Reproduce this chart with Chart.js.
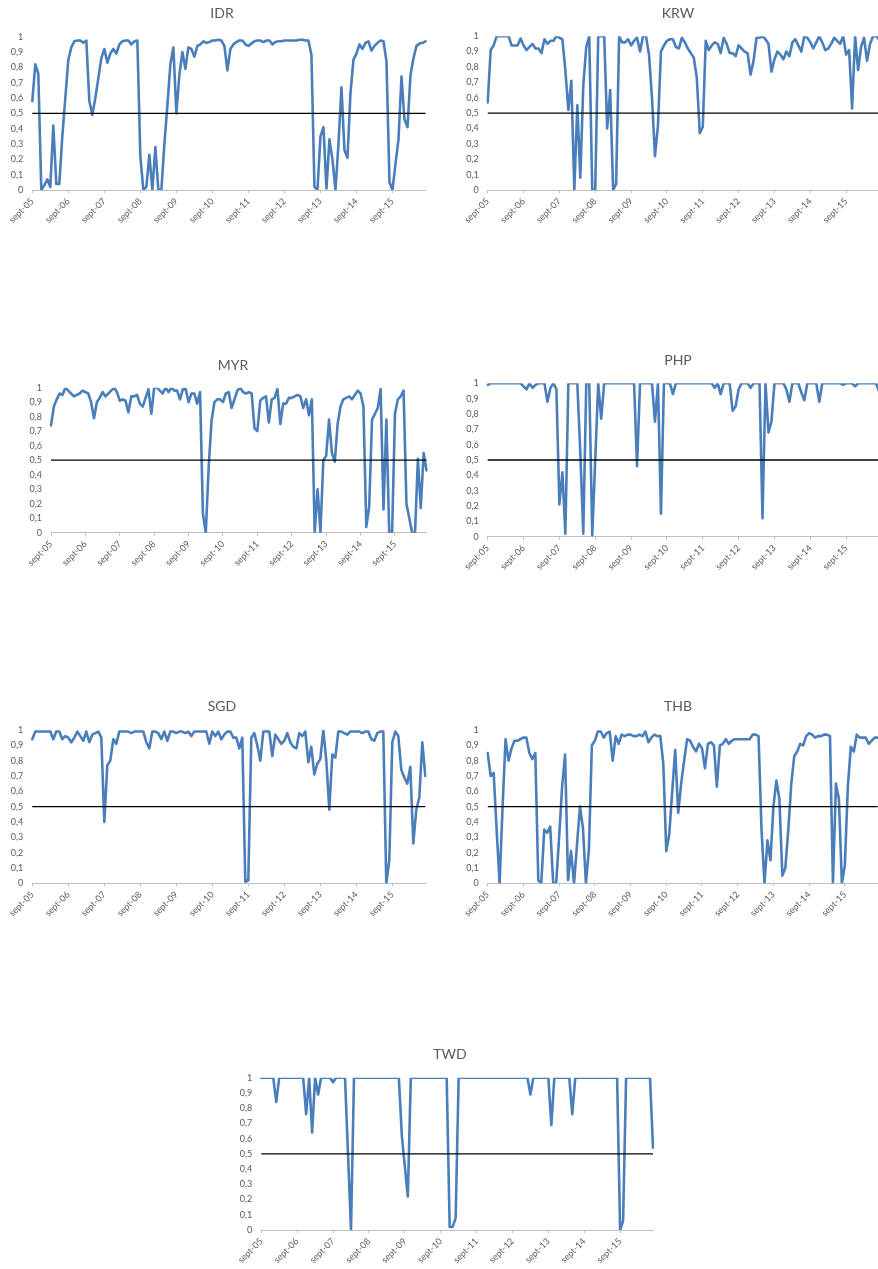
<!DOCTYPE html>
<html><head><meta charset="utf-8">
<script src="https://cdn.jsdelivr.net/npm/chart.js@4.4.1/dist/chart.umd.min.js"></script>
<style>
html,body{margin:0;padding:0;width:878px;height:1269px;overflow:hidden;background:#fff;}
canvas{position:absolute;}
</style></head><body>
<script>
// ---- data ----
const monthNames = ['sept','oct','nov','déc','janv','févr','mars','avr','mai','juin','juil','août'];
const tickLabels = ['sept-05','sept-06','sept-07','sept-08','sept-09','sept-10','sept-11','sept-12','sept-13','sept-14','sept-15'];
const threshold = 0.5;

const IDR = [0.58,0.82,0.76,0.0,0.03,0.07,0.02,0.42,0.04,0.04,0.35,0.6,0.85,0.93,0.97,0.975,0.975,0.96,0.975,0.58,
0.49,0.6,0.73,0.86,0.92,0.83,0.89,0.92,0.89,0.95,0.97,0.975,0.975,0.95,0.97,0.975,0.22,0.0,0.02,0.23,
0.0,0.28,0.0,0.0,0.3,0.55,0.82,0.93,0.5,0.75,0.9,0.79,0.93,0.92,0.87,0.94,0.95,0.97,0.96,0.965,
0.975,0.975,0.98,0.975,0.94,0.78,0.92,0.95,0.965,0.975,0.975,0.95,0.94,0.955,0.97,0.975,0.975,0.965,0.975,0.975,
0.95,0.965,0.97,0.97,0.975,0.975,0.975,0.975,0.975,0.98,0.98,0.975,0.975,0.88,0.02,0.0,0.35,0.41,0.01,0.33,
0.2,0.0,0.3,0.67,0.26,0.21,0.63,0.85,0.89,0.95,0.92,0.96,0.97,0.91,0.94,0.96,0.975,0.97,0.84,0.05,
0.0,0.17,0.33,0.74,0.46,0.41,0.75,0.86,0.94,0.955,0.96,0.97];

const KRW = [0.57,0.91,0.94,1,1,1,1,1,0.94,0.94,0.94,0.985,0.94,0.91,0.93,0.95,0.92,0.92,0.89,0.98,
0.95,0.97,0.97,1,0.99,0.98,0.78,0.52,0.71,0.0,0.55,0.08,0.68,0.93,1,0.0,0.0,1,1,1,
0.4,0.65,0.0,0.04,1,0.96,0.96,0.98,0.94,0.97,0.99,0.9,1,1,0.88,0.6,0.22,0.42,0.9,0.94,
0.97,0.98,0.98,0.93,0.92,0.99,0.96,0.92,0.89,0.86,0.73,0.37,0.41,0.97,0.91,0.94,0.96,0.95,0.89,0.99,
0.95,0.89,0.89,0.87,0.94,0.92,0.9,0.89,0.75,0.84,0.99,0.99,1,0.98,0.95,0.77,0.85,0.9,0.88,0.85,
0.9,0.87,0.96,0.98,0.94,0.9,1,0.99,0.96,0.92,0.96,1,0.96,0.91,0.92,0.95,0.99,0.97,0.95,1,
0.88,0.91,0.53,1,0.78,0.93,0.99,0.84,0.95,1,1,0.98];

const MYR = [0.74,0.87,0.92,0.96,0.95,1.0,0.98,0.96,0.94,0.95,0.96,0.98,0.97,0.96,0.9,0.79,0.9,0.93,0.97,0.94,
0.96,0.98,1.0,0.97,0.91,0.92,0.91,0.83,0.94,0.94,0.95,0.89,0.87,0.93,0.99,0.82,1.0,1.0,0.98,0.96,
1.0,0.97,1.0,0.98,0.98,0.92,0.99,0.99,0.9,0.96,0.96,0.89,0.97,0.13,0.0,0.45,0.77,0.9,0.92,0.92,
0.9,0.96,0.97,0.86,0.92,0.98,1.0,0.97,0.96,0.97,0.96,0.72,0.7,0.91,0.93,0.94,0.76,0.92,0.93,0.99,
0.75,0.89,0.89,0.93,0.93,0.94,0.95,0.94,0.86,0.92,0.81,0.92,0.0,0.3,0.0,0.5,0.53,0.78,0.55,0.49,
0.75,0.87,0.92,0.93,0.94,0.92,0.95,0.98,0.96,0.87,0.04,0.18,0.78,0.82,0.86,0.99,0.16,0.78,0.0,0.0,
0.82,0.92,0.94,0.98,0.2,0.1,0.0,0.0,0.51,0.17,0.55,0.43];

const PHP = [0.99,1,1,1,1,1,1,1,1,1,1,1,0.98,0.96,1,0.97,0.99,1,1,1,
0.88,0.97,1,0.96,0.21,0.42,0.02,1,1,1,1,0.55,0.02,1,1,0.01,0.5,1,0.77,1,
1,1,1,1,1,1,1,1,1,1,0.46,1,1,1,1,1,0.75,1,0.15,1,
1,1,0.93,1,1,1,1,1,1,1,1,1,1,1,1,1,0.97,1,0.93,1,
1,1,0.82,0.85,0.96,1,1,1,0.97,1,1,1,0.12,1,0.68,0.75,1,1,1,1,
0.96,0.88,1,1,1,0.94,0.89,1,1,1,1,0.88,1,1,1,1,1,1,1,0.99,
1,1,1,0.98,1,1,1,1,1,1,1,0.95];

const SGD = [0.94,0.99,0.99,0.99,0.99,0.99,0.99,0.94,0.99,0.99,0.94,0.96,0.95,0.92,0.95,0.99,0.96,0.93,0.99,0.92,
0.97,0.98,0.99,0.95,0.4,0.77,0.8,0.94,0.91,0.99,0.99,0.99,0.99,0.98,0.99,0.99,0.99,0.99,0.92,0.88,
0.99,0.99,0.98,0.94,0.99,0.93,0.99,0.99,0.98,0.99,0.99,0.98,0.99,0.96,0.99,0.99,0.99,0.99,0.99,0.91,
0.99,0.96,0.99,0.94,0.97,0.99,0.99,0.95,0.95,0.88,0.95,0.01,0.02,0.95,0.98,0.9,0.8,0.99,0.99,0.99,
0.83,0.97,0.94,0.91,0.93,0.98,0.92,0.89,0.88,0.98,0.96,0.99,0.79,0.89,0.71,0.78,0.81,1.0,0.8,0.48,
0.84,0.82,0.99,0.99,0.98,0.97,0.99,0.99,0.99,0.99,0.98,0.99,0.99,0.94,0.93,0.98,0.99,0.99,0.0,0.15,
0.92,0.99,0.96,0.74,0.69,0.65,0.76,0.26,0.48,0.56,0.92,0.7];

const THB = [0.85,0.7,0.72,0.35,0.0,0.5,0.94,0.8,0.88,0.93,0.93,0.94,0.95,0.95,0.85,0.81,0.85,0.02,0.0,0.35,
0.33,0.37,0.0,0.0,0.3,0.63,0.84,0.02,0.21,0.0,0.25,0.5,0.36,0.0,0.22,0.9,0.93,0.99,0.99,0.95,
0.98,0.99,0.8,0.96,0.91,0.97,0.96,0.97,0.97,0.96,0.96,0.97,0.96,0.99,0.92,0.95,0.97,0.96,0.96,0.78,
0.21,0.32,0.6,0.87,0.46,0.65,0.8,0.94,0.93,0.89,0.86,0.91,0.88,0.75,0.91,0.92,0.9,0.63,0.9,0.91,
0.94,0.91,0.93,0.94,0.94,0.94,0.94,0.94,0.94,0.97,0.97,0.96,0.35,0.0,0.28,0.15,0.5,0.67,0.55,0.05,
0.1,0.35,0.65,0.83,0.86,0.91,0.9,0.96,0.98,0.97,0.95,0.96,0.96,0.97,0.97,0.96,0.0,0.65,0.55,0.0,
0.12,0.63,0.89,0.86,0.97,0.95,0.95,0.95,0.91,0.93,0.95,0.95];

const TWD = [1,1,1,1,1,0.84,1,1,1,1,1,1,1,1,1,0.76,1,0.64,1,0.89,
1,1,1,1,0.97,1,1,1,1,0.5,0.0,1,1,1,1,1,1,1,1,1,
1,1,1,1,1,1,1,0.62,0.42,0.22,1,1,1,1,1,1,1,1,1,1,
1,1,1,0.02,0.02,0.08,1,1,1,1,1,1,1,1,1,1,1,1,1,1,
1,1,1,1,1,1,1,1,1,1,0.89,1,1,1,1,1,1,0.69,1,1,
1,1,1,1,0.76,1,1,1,1,1,1,1,1,1,1,1,1,1,1,1,
0.0,0.06,1,1,1,1,1,1,1,1,1,0.54];

// categories (monthly, starting sept-05)
const categories = IDR.map((_, i) => monthNames[i % 12] + '-' + String(5 + Math.floor((i + 8) / 12)).padStart(2, '0'));

// ---- layout (page pixel positions of each plot area) ----
const layout = [
  {name:'IDR', values:IDR, L:32.3, R:425.5, T:36.7, B:190,   tx:222, ty:13.5},
  {name:'KRW', values:KRW, L:487.7, R:879.0, T:36.2, B:190,  tx:678, ty:13.5},
  {name:'MYR', values:MYR, L:51,   R:426.5, T:387.7, B:532.7, tx:233, ty:365},
  {name:'PHP', values:PHP, L:487.7, R:879.0, T:383.3, B:536.7, tx:678, ty:360},
  {name:'SGD', values:SGD, L:32.3, R:425.3, T:730,  B:883.3, tx:222, ty:706.5},
  {name:'THB', values:THB, L:487.7, R:877.6, T:730,  B:883.3, tx:678, ty:706},
  {name:'TWD', values:TWD, L:261.3, R:653,   T:1077.7, B:1230, tx:450, ty:1054.5}
];

Chart.defaults.font.family = 'Lato, "Open Sans", sans-serif';
Chart.defaults.color = '#595959';

function makeChart(spec) {
  const canvas = document.createElement('canvas');
  const tx = Math.round(spec.tx);
  const hw = Math.ceil(Math.max(tx - (spec.L - 36), spec.R + 8 - tx));
  const cl = tx - hw, cw = 2 * hw;
  const ct = Math.floor(spec.T - 34);
  const ch = Math.ceil(spec.B + 44 - ct);
  const yw = spec.L - cl;
  const padR = cl + cw - spec.R;
  const topH = spec.T - ct;
  const xh = ct + ch - spec.B;
  const fs = 14, lh = fs * 1.2;
  const pt = spec.ty - ct - lh / 2;
  const pb = topH - lh - pt;
  canvas.width = cw; canvas.height = ch;
  canvas.style.left = cl + 'px'; canvas.style.top = ct + 'px';
  canvas.style.width = cw + 'px'; canvas.style.height = ch + 'px';
  document.body.appendChild(canvas);

  new Chart(canvas, {
    type: 'line',
    data: {
      labels: categories,
      datasets: [
        {
          data: [{x: categories[0], y: threshold}, {x: categories[categories.length - 1], y: threshold}],
          borderColor: '#000000', borderWidth: 1.3, pointRadius: 0, fill: false
        },
        {
          data: spec.values,
          borderColor: '#4a7ebb', borderWidth: 2.6, pointRadius: 0, tension: 0, fill: false,
          borderJoinStyle: 'round', borderCapStyle: 'round'
        }
      ]
    },
    options: {
      responsive: false, animation: false, devicePixelRatio: 1,
      layout: {padding: 0},
      plugins: {
        legend: {display: false}, tooltip: {enabled: false},
        title: {display: true, text: spec.name, color: '#595959',
          font: {size: fs, weight: 'normal', lineHeight: 1.2},
          padding: {top: pt, bottom: pb}}
      },
      scales: {
        x: {
          type: 'category', offset: false,
          grid: {display: true, drawOnChartArea: false, drawTicks: true, tickLength: 3,
            color: ctx => (ctx.tick && ctx.tick.label) ? '#bfbfbf' : 'rgba(0,0,0,0)', lineWidth: 1},
          border: {display: true, color: '#bfbfbf', width: 1},
          ticks: {autoSkip: false, minRotation: 45, maxRotation: 45, padding: 3,
            color: '#595959', font: {size: 9},
            callback: function(v) { const lab = this.getLabelForValue(v); return tickLabels.includes(lab) ? lab : null; }},
          afterFit: s => { s.height = xh; s.paddingLeft = 0; s.paddingRight = padR; }
        },
        y: {
          min: 0, max: 1,
          grid: {display: false, drawTicks: false},
          border: {display: false},
          ticks: {stepSize: 0.1, padding: 9, color: '#595959', font: {size: 9},
            callback: v => String(Math.round(v * 10) / 10).replace('.', ',')},
          afterFit: s => { s.width = yw; s.paddingTop = 0; s.paddingBottom = 0; }
        }
      }
    }
  });
}
layout.forEach(makeChart);
</script>
</body></html>
